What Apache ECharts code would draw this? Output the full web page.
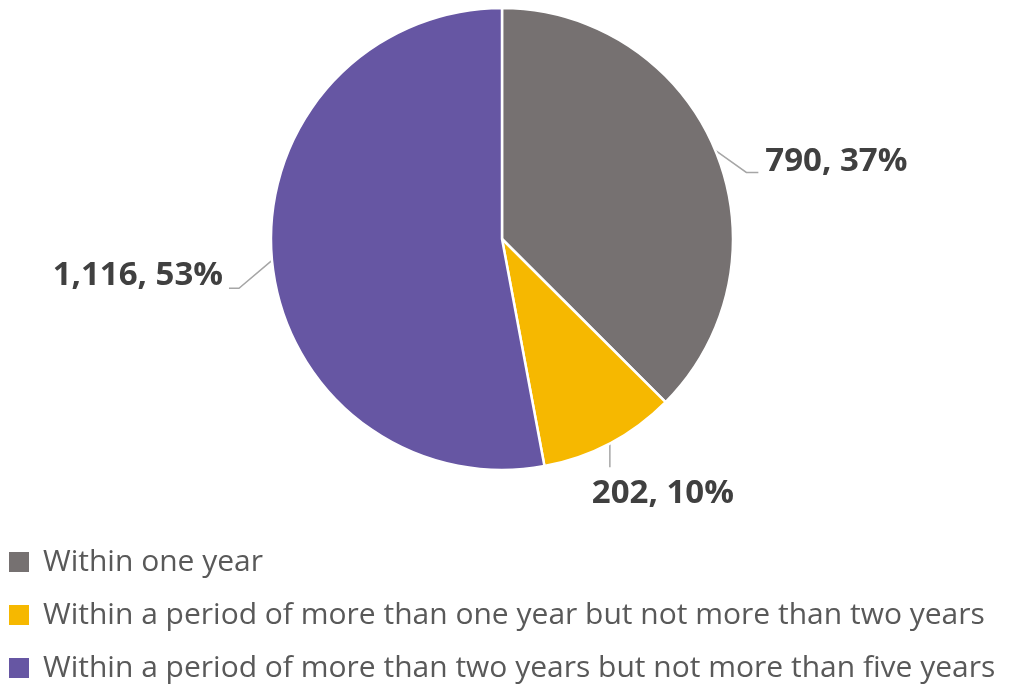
<!DOCTYPE html>
<html><head><meta charset="utf-8">
<script src="https://cdn.jsdelivr.net/npm/echarts@6/dist/echarts.min.js"></script>
<style>html,body{margin:0;padding:0;background:#fff}#c{width:1009px;height:684px}</style>
</head><body><div id="c"></div>
<script>
const categories = [
  'Within one year',
  'Within a period of more than one year but not more than two years',
  'Within a period of more than two years but not more than five years'
];
const values = [790, 202, 1116];
const percentLabels = ['37%', '10%', '53%'];
const colors = ['#767171', '#F6B800', '#6656A3'];

const chart = echarts.init(document.getElementById('c'), null, {renderer: 'canvas'});
const fmt = v => v.toLocaleString('en-US');

// label offsets relative to the library's leader-line anchor on the pie edge
const labelOffsets = [
  {line: [[31, 22], [43, 22]], pos: [50, 11], align: 'left'},
  {line: [[0, 24]], pos: [53, 50], align: 'center'},
  {line: [[-33, 28], [-43, 28]], pos: [-49, 15], align: 'right'}
];

chart.setOption({
  animation: false,
  legend: {
    orient: 'vertical',
    left: 7,
    top: 540,
    height: 300,
    padding: 0,
    itemWidth: 22,
    itemHeight: 22,
    itemGap: 9,
    icon: 'rect',
    textStyle: {fontFamily: 'Open Sans', fontSize: 30, color: '#595959', lineHeight: 32, padding: [0, 0, 12, 8]},
    data: categories
  },
  series: [{
    type: 'pie',
    center: [502, 239],
    radius: 231,
    startAngle: 90,
    clockwise: true,
    data: categories.map((c, i) => ({name: c, value: values[i], itemStyle: {color: colors[i]}})),
    itemStyle: {borderColor: '#fff', borderWidth: 2.5},
    label: {
      show: true,
      position: 'outside',
      formatter: p => fmt(p.value) + ', ' + percentLabels[p.dataIndex],
      fontFamily: 'Open Sans',
      fontWeight: 'bold',
      fontSize: 33,
      color: '#404040'
    },
    labelLine: {show: true, length: 20, length2: 15, lineStyle: {color: '#A6A6A6', width: 1.5}},
    labelLayout: function (params) {
      const o = labelOffsets[params.dataIndex];
      const p0 = params.labelLinePoints[0];
      const pts = [p0.slice()].concat(o.line.map(d => [p0[0] + d[0], p0[1] + d[1]]));
      return {
        x: p0[0] + o.pos[0],
        y: p0[1] + o.pos[1],
        align: o.align,
        verticalAlign: 'middle',
        labelLinePoints: pts
      };
    }
  }]
});
</script></body></html>
